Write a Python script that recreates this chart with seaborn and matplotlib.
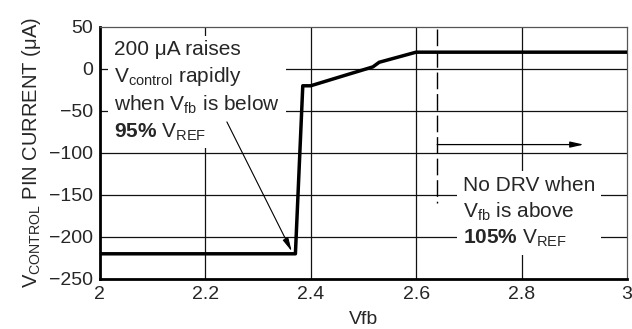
import matplotlib
matplotlib.use("Agg")
import matplotlib.pyplot as plt
import seaborn as sns
import pandas as pd

# Pin current versus feedback voltage
vfb = [2.0, 2.371, 2.385, 2.40, 2.468, 2.518, 2.530, 2.60, 3.0]
current = [-220, -220, -20, -20, -7, 2.5, 8, 20, 20]

x_ticks = [2.0, 2.2, 2.4, 2.6, 2.8, 3.0]
x_tick_labels = ["2", "2.2", "2.4", "2.6", "2.8", "3"]
y_ticks = [-250, -200, -150, -100, -50, 0, 50]
y_tick_labels = ["\u2212250", "\u2212200", "\u2212150", "\u2212100", "\u221250", "0", "50"]

threshold_vfb = 2.64

sns.set_style("white")
plt.rcParams["font.family"] = ["Liberation Sans", "DejaVu Sans"]
plt.rcParams["mathtext.fontset"] = "custom"
plt.rcParams["mathtext.rm"] = "Liberation Sans"
plt.rcParams["mathtext.it"] = "Liberation Sans:italic"
plt.rcParams["mathtext.bf"] = "Liberation Sans:bold"

fig = plt.figure(figsize=(6.32, 3.29), dpi=100)
ax = fig.add_axes([0.158, 0.152, 0.834, 0.766])

df = pd.DataFrame({"Vfb": vfb, "I": current})

# grid
for xv in x_ticks[1:-1]:
    ax.axvline(xv, color="#111111", lw=0.9, zorder=1)
for yv in y_ticks[1:-1]:
    ax.axhline(yv, color="#111111", lw=0.9, zorder=1)

sns.lineplot(data=df, x="Vfb", y="I", color="black", lw=2.5, sort=False,
             ax=ax, zorder=4)

# threshold marker
ax.plot([threshold_vfb, threshold_vfb], [48, -160], color="black", lw=1.0,
        dashes=(12, 3.5), zorder=2)
ax.annotate("", xy=(2.918, -90), xytext=(threshold_vfb, -90),
            arrowprops=dict(arrowstyle="-|>,head_length=0.8,head_width=0.18",
                            color="black", lw=0.9, shrinkA=0, shrinkB=0),
            zorder=3)

ax.set_xlim(2, 3)
ax.set_ylim(-250, 50)
ax.set_xticks(x_ticks)
ax.set_xticklabels(x_tick_labels)
ax.set_yticks(y_ticks)
ax.set_yticklabels(y_tick_labels)
ax.tick_params(axis="y", length=3, width=0.9, color="black", labelsize=14, pad=2)
ax.tick_params(axis="x", length=0, labelsize=14, pad=5)

ax.set_xlabel("Vfb", fontsize=14, labelpad=6)
ax.set_ylabel(r"$\mathregular{V_{CONTROL}}$ PIN CURRENT (" + "\u03bc" + "A)",
              fontsize=14.5, labelpad=4)

for side in ["left", "bottom"]:
    ax.spines[side].set_color("black")
    ax.spines[side].set_linewidth(2.0)
for side in ["top", "right"]:
    ax.spines[side].set_color("#555555")
    ax.spines[side].set_linewidth(0.9)

box = dict(facecolor="white", edgecolor="none", pad=4)

ax.text(2.027, 34,
        "200 \u03bcA raises\n"
        r"$\mathregular{V_{control}}$ rapidly" "\n"
        r"when $\mathregular{V_{fb}}$ is below" "\n"
        r"$\mathbf{95\%}$ $\mathregular{V_{REF}}$",
        ha="left", va="top", fontsize=15, linespacing=1.33, bbox=box, zorder=5)

ax.annotate("", xy=(2.364, -217), xytext=(2.241, -63),
            arrowprops=dict(arrowstyle="-|>,head_length=0.8,head_width=0.18",
                            color="black", lw=0.8, shrinkA=0, shrinkB=0),
            zorder=6)

ax.text(2.689, -127,
        "No DRV when\n"
        r"$\mathregular{V_{fb}}$ is above" "\n"
        r"$\mathbf{105\%}$ $\mathregular{V_{REF}}$",
        ha="left", va="top", fontsize=15, linespacing=1.33, bbox=box, zorder=5)

fig.savefig("out.png", dpi=100)
